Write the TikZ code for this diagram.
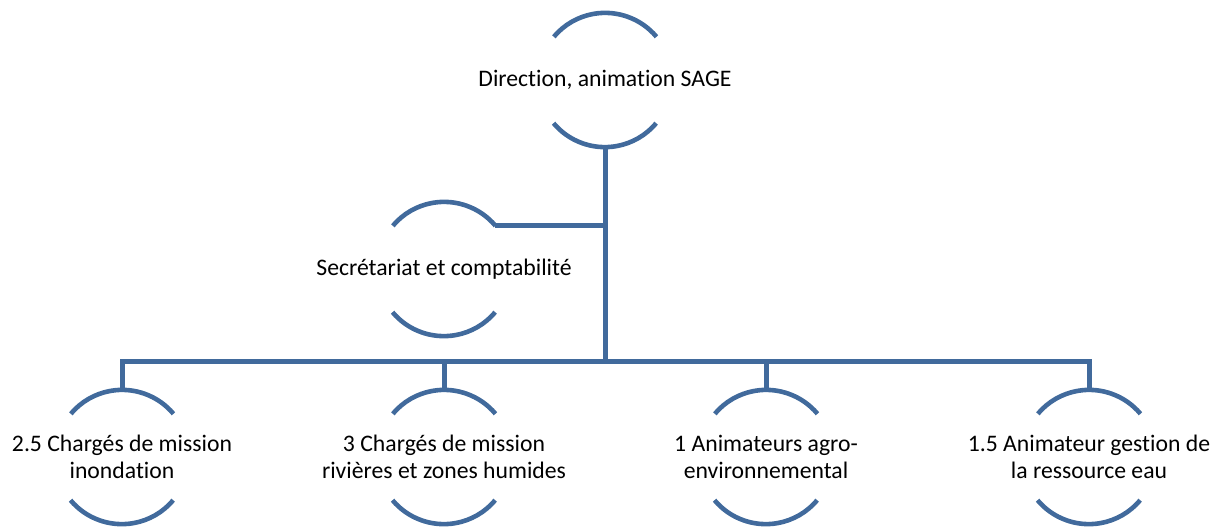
\documentclass[tikz,border=0pt]{standalone}
\usepackage{fontspec}
\setmainfont{Carlito}[Ligatures={NoCommon,NoContextual}]
\definecolor{orgblue}{RGB}{65,106,156}
\begin{document}
\begin{tikzpicture}[x=1pt,y=-1pt,
  orgnode/.style={circle,draw=none,minimum size=134pt,inner sep=0pt},
  orgtext/.style={align=center,font=\fontsize{23.7pt}{27pt}\selectfont,text=black,inner sep=0pt},
  arcline/.style={draw=orgblue,line width=4.6pt},
  conn/.style={draw=orgblue,line width=5pt,line join=miter}]
\useasboundingbox (0,0) rectangle (1220,527);
\node[orgnode,label={[orgtext]center:Direction, animation SAGE}] (top) at (605,80) {};
\node[orgnode,label={[orgtext]center:Secrétariat et comptabilité}] (sec) at (444,269) {};
\node[orgnode,label={[orgtext]center:2.5 Chargés de mission\\inondation}] (a) at (122,457) {};
\node[orgnode,label={[orgtext]center:3 Chargés de mission\\rivières et zones humides}] (b) at (444,457) {};
\node[orgnode,label={[orgtext]center:1 Animateurs agro-\\environnemental}] (c) at (766,457) {};
\node[orgnode,label={[orgtext]center:1.5 Animateur gestion de\\la ressource eau}] (d) at (1089,457) {};
\foreach \n in {top,sec,a,b,c,d}
  \draw[arcline] (\n.40) arc[start angle=40,end angle=140,radius=67pt]
                 (\n.-140) arc[start angle=-140,end angle=-40,radius=67pt];
\coordinate (bus) at (605,361);
\draw[conn] (top.south) -- (bus);
\draw[conn] (sec.40) -- (sec.40 -| top.south);
\foreach \n in {a,b,c,d}
  \draw[conn] (\n.north) |- (bus);
\end{tikzpicture}
\end{document}
